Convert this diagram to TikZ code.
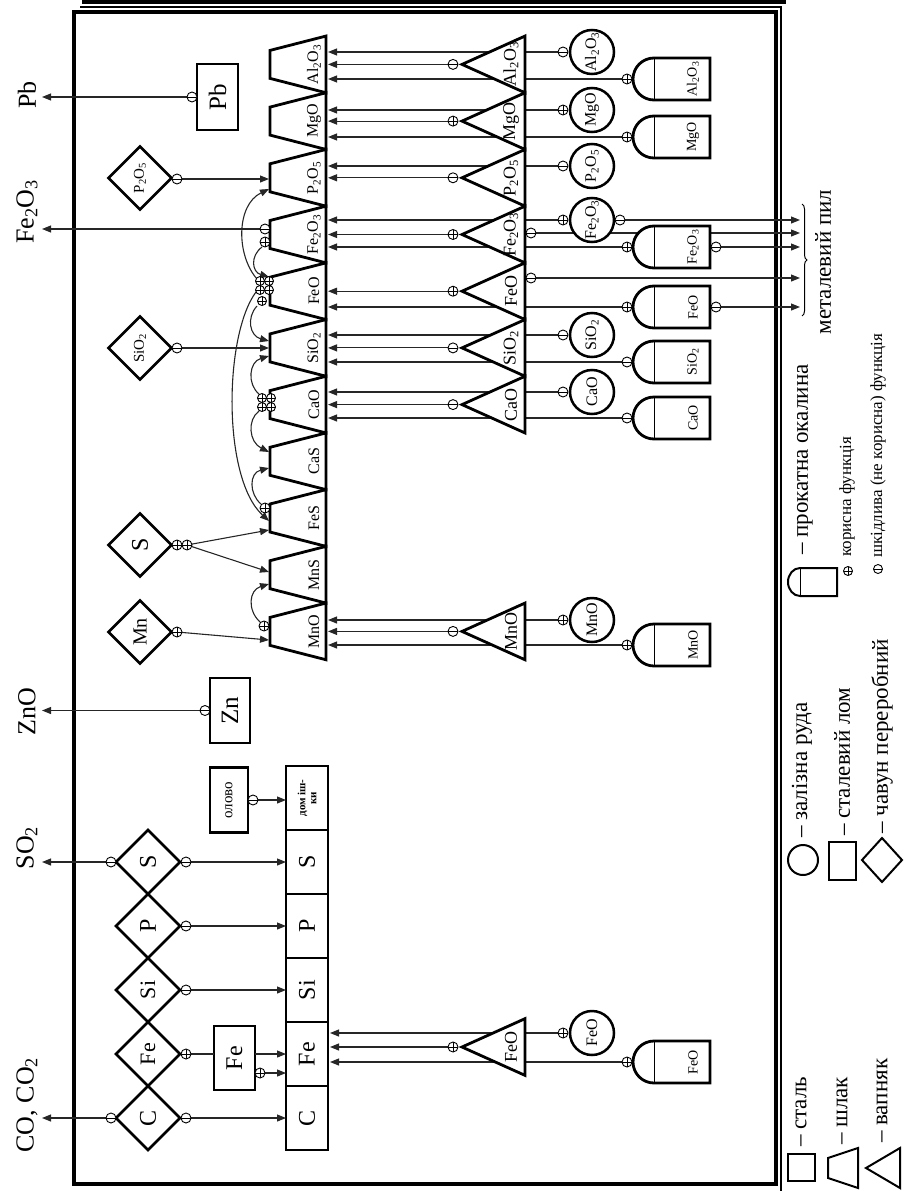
\documentclass[tikz,border=0pt]{standalone}
\usepackage{fontspec}
\setmainfont{Liberation Serif}
\usetikzlibrary{arrows.meta,decorations.pathreplacing}
\newcommand{\sbs}[1]{\textsubscript{#1}}
\newcommand{\fsz}[1]{\fontsize{#1}{#1}\selectfont}
\tikzset{
  conn/.style={line width=1.1pt, black!85},
  arr/.style={conn, -{Triangle[length=9pt,width=7pt]}},
  shp/.style={line width=2.8pt, fill=white},
  lshp/.style={line width=2pt, fill=white},
  lbl/.style={rotate=90, inner sep=0pt},
  sbox/.style={draw, line width=2.8pt, fill=white, rotate=90, inner sep=0pt},
  mk/.style={circle, draw, fill=white, inner sep=0pt, minimum size=10pt, line width=0.9pt},
  plus/.style={mk, path picture={\draw[line width=0.8pt] (path picture bounding box.north) -- (path picture bounding box.south) (path picture bounding box.west) -- (path picture bounding box.east);}},
  minus/.style={mk, path picture={\draw[line width=0.8pt] (path picture bounding box.west) -- (path picture bounding box.east);}},
}
\newcommand{\slagT}[3]{%
  \draw[shp] (270,{#2-14}) -- (326,{#2-28.35}) -- (326,{#2+28.35}) -- (270,{#2+14}) -- cycle;
  \node[lbl,font=\fsz{16}] (#1) at (314,#2) {#3};}
\newcommand{\limeT}[3]{%
  \draw[shp] (462,#2) -- (525,{#2-28.35}) -- (525,{#2+28.35}) -- cycle;
  \node[lbl,font=\fsz{18}] (#1) at (511,#2) {#3};}
\newcommand{\oreC}[3]{%
  \node[circle, draw, line width=2.5pt, fill=white, minimum size=44pt, inner sep=0pt, rotate=90, font=\fsz{16}] (#1) at (592,#2) {#3};}
\newcommand{\scaleB}[3]{%
  \draw[shp] (654,{#2-21}) -- (710,{#2-21}) -- (710,{#2+21}) -- (654,{#2+21}) .. controls (642.4,{#2+21}) and (633,{#2+11.6}) .. (633,#2) .. controls (633,{#2-11.6}) and (642.4,{#2-21}) .. (654,{#2-21}) -- cycle;
  \draw[line width=0.6pt] (654,{#2-20}) -- (654,{#2+20});
  \node[lbl,font=\fsz{14}] (#1) at (693,#2) {#3};}
\newcommand{\castD}[5]{%
  \draw[shp] ({#2-#4},#3) -- (#2,{#3-#4}) -- ({#2+#4},#3) -- (#2,{#3+#4}) -- cycle;
  \node[lbl] (#1) at (#2,#3) {#5};}
\newcommand{\feed}[4]{\coordinate (#1s) at (#2,#3); \coordinate (#1e) at (#4,#3); \draw[arr] (#1s) -- (#1e);}

\begin{document}
\begin{tikzpicture}[x=1pt,y=-1pt]
\useasboundingbox (0,0) rectangle (904,1191);
% frame
\draw[line width=3.5pt] (74,12) rectangle (776,1184);
\draw[line width=4pt] (82,2) -- (786,2);
\draw[line width=1.3pt] (80,7) -- (781,7) -- (781,1191);

% ---------- feeds into slag (behind shapes)
\feed{fAlc}{563}{52}{328} \feed{fAlt}{453}{64.4}{328} \feed{fAlb}{627}{79}{328}
\feed{fMgc}{563}{110}{328} \feed{fMgt}{453}{121.1}{328} \feed{fMgb}{627}{137}{328}
\feed{fPc}{563}{166}{328} \feed{fPt}{453}{177.8}{328}
\feed{fFc}{563}{220}{328} \feed{fFt}{453}{234.5}{328} \feed{fFb}{627}{247}{328}
\feed{fOt}{453}{291.2}{328} \feed{fOb}{627}{307}{328}
\feed{fSc}{563}{335}{328} \feed{fSt}{453}{347.9}{328} \feed{fSb}{627}{362}{328}
\feed{fCc}{563}{392}{328} \feed{fCt}{453}{404.6}{328} \feed{fCb}{627}{418}{328}
\feed{fMc}{563}{620}{328} \feed{fMt}{453}{631.4}{328} \feed{fMb}{627}{645}{328}
\feed{gc}{563}{1033}{330} \feed{gt}{453}{1047}{330} \feed{gb}{627}{1062}{330}
% metal dust
\feed{dA}{620}{220}{800} \feed{dB}{531}{233}{800} \feed{dC}{716}{247}{800}
\feed{dD}{531}{278}{800} \feed{dE}{716}{307}{800}

% ---------- slag trapezoids
\slagT{sAl}{64.4}{Al\sbs{2}O\sbs{3}}
\slagT{sMg}{121.1}{MgO}
\slagT{sP}{177.8}{P\sbs{2}O\sbs{5}}
\slagT{sF3}{234.5}{Fe\sbs{2}O\sbs{3}}
\slagT{sFO}{291.2}{FeO}
\slagT{sSi}{347.9}{SiO\sbs{2}}
\slagT{sCa}{404.6}{CaO}
\slagT{sCS}{461.3}{CaS}
\slagT{sFS}{518.0}{FeS}
\slagT{sMS}{574.7}{MnS}
\slagT{sMn}{631.4}{MnO}

% ---------- limestone triangles
\limeT{lAl}{64.4}{Al\sbs{2}O\sbs{3}}
\limeT{lMg}{121.1}{MgO}
\limeT{lP}{177.8}{P\sbs{2}O\sbs{5}}
\limeT{lF3}{234.5}{Fe\sbs{2}O\sbs{3}}
\limeT{lFO}{291.2}{FeO}
\limeT{lSi}{347.9}{SiO\sbs{2}}
\limeT{lCa}{404.6}{CaO}
\limeT{lMn}{631.4}{MnO}
\limeT{lFe}{1047}{FeO}

% ---------- ore circles
\oreC{oAl}{52}{Al\sbs{2}O\sbs{3}}
\oreC{oMg}{110}{MgO}
\oreC{oP}{166}{P\sbs{2}O\sbs{5}}
\oreC{oF3}{220}{Fe\sbs{2}O\sbs{3}}
\oreC{oSi}{335}{SiO\sbs{2}}
\oreC{oCa}{392}{CaO}
\oreC{oMn}{620}{MnO}
\oreC{oFe}{1033}{FeO}

% ---------- scale bullets
\scaleB{bAl}{79}{Al\sbs{2}O\sbs{3}}
\scaleB{bMg}{137}{MgO}
\scaleB{bF3}{247}{Fe\sbs{2}O\sbs{3}}
\scaleB{bFO}{307}{FeO}
\scaleB{bSi}{362}{SiO\sbs{2}}
\scaleB{bCa}{418}{CaO}
\scaleB{bMn}{645}{MnO}
\scaleB{bFe}{1062}{FeO}

% ---------- markers on right feeds
\node[minus] (mAlc) at (fAlcs) {}; \node[minus] (mAlt) at (fAlts) {}; \node[plus] (mAlb) at (fAlbs) {};
\node[plus] (mMgc) at (fMgcs) {}; \node[plus] (mMgt) at (fMgts) {}; \node[plus] (mMgb) at (fMgbs) {};
\node[minus] (mPc) at (fPcs) {}; \node[minus] (mPt) at (fPts) {};
\node[plus] (mFc) at (fFcs) {}; \node[plus] (mFt) at (fFts) {}; \node[plus] (mFb) at (fFbs) {};
\node[plus] (mOt) at (fOts) {}; \node[plus] (mOb) at (fObs) {};
\node[minus] (mSc) at (fScs) {}; \node[minus] (mSt) at (fSts) {}; \node[minus] (mSb) at (fSbs) {};
\node[minus] (mCc) at (fCcs) {}; \node[minus] (mCt) at (fCts) {}; \node[minus] (mCb) at (fCbs) {};
\node[plus] (mMc) at (fMcs) {}; \node[minus] (mMt) at (fMts) {}; \node[plus] (mMb) at (fMbs) {};
\node[plus] (mgc) at (gcs) {}; \node[plus] (mgt) at (gts) {}; \node[plus] (mgb) at (gbs) {};
\node[minus] (mdA) at (dAs) {}; \node[minus] (mdB) at (dBs) {}; \node[minus] (mdC) at (dCs) {};
\node[minus] (mdD) at (dDs) {}; \node[minus] (mdE) at (dEs) {};

% ---------- steel boxes
\node[sbox, minimum width=64pt, minimum height=42pt, font=\fsz{11}\bfseries, align=center] (stD) at (307,798) {дом іш-\\ки};
\node[sbox, minimum width=64pt, minimum height=42pt, font=\fsz{24}] (stS) at (307,862) {S};
\node[sbox, minimum width=64pt, minimum height=42pt, font=\fsz{24}] (stP) at (307,926) {P};
\node[sbox, minimum width=64pt, minimum height=42pt, font=\fsz{24}] (stSi) at (307,990) {Si};
\node[sbox, minimum width=64pt, minimum height=42pt, font=\fsz{24}] (stFe) at (307,1054) {Fe};
\node[sbox, minimum width=64pt, minimum height=42pt, font=\fsz{24}] (stC) at (307,1118) {C};
% scrap / other boxes
\node[sbox, minimum width=64pt, minimum height=41pt, font=\fsz{24}] (scFe) at (234.5,1058) {Fe};
\node[sbox, minimum width=65pt, minimum height=38pt, font=\fsz{15}] (olovo) at (229,800) {олово};
\node[sbox, minimum width=65pt, minimum height=40pt, font=\fsz{25}] (bZn) at (230,710.5) {Zn};
\node[sbox, minimum width=66pt, minimum height=41pt, font=\fsz{25}] (bPb) at (217.5,97) {Pb};

% ---------- cast-iron diamonds
\castD{dC}{148}{1118}{32}{\fsz{24}C}
\castD{dFe}{148}{1054}{32}{\fsz{22}Fe}
\castD{dSi}{148}{990}{32}{\fsz{22}Si}
\castD{dP}{148}{926}{32}{\fsz{24}P}
\castD{dS}{148}{862}{32}{\fsz{24}S}
\castD{uP}{140}{178}{31.5}{\fsz{15}P\sbs{2}O\sbs{5}}
\castD{uSi}{140}{348}{31.5}{\fsz{15}SiO\sbs{2}}
\castD{uS}{140}{545}{31.5}{\fsz{24}S}
\castD{uMn}{140}{632}{31.5}{\fsz{20}Mn}

% ---------- left connectors
\feed{kC}{186}{1118}{286} \feed{kSi}{186}{990}{286} \feed{kP}{186}{926}{286} \feed{kS}{186}{862}{286}
\coordinate (kFes) at (186,1054); \coordinate (kFem) at (214,1054);
\draw[conn] (kFes) -- (kFem);
\feed{kFf}{255}{1054}{286}
\feed{kFp}{260}{1073}{286}
\feed{kOl}{253}{800}{286}
% outputs
\feed{oCO}{111}{1118}{42} \feed{oSO}{111}{862}{42} \feed{oZn}{205}{710.5}{42}
\feed{oPb}{192}{97}{42} \feed{oFe}{265}{229}{42}
% upper diamonds into slag
\feed{uPa}{177}{179}{269} \feed{uSia}{177}{348}{269}
\coordinate (uSs) at (187,545); \coordinate (uSe1) at (269,530); \coordinate (uSe2) at (269,572);
\draw[arr] (uSs) -- (uSe1); \draw[arr] (uSs) -- (uSe2);
\coordinate (uMs) at (177,632); \coordinate (uMe) at (269,640);
\draw[arr] (uMs) -- (uMe);
% interaction arcs
\coordinate (a1s) at (262,247); \coordinate (a1e) at (269,277);
\draw[arr] (a1s) .. controls (250,256) and (252,272) .. (a1e);
\coordinate (a2s) at (257,279); \coordinate (a2e) at (269,189);
\draw[arr] (a2s) .. controls (236,255) and (236,205) .. (a2e);
\coordinate (a3s) at (257,306); \coordinate (a3e) at (269,341);
\draw[arr] (a3s) .. controls (246,318) and (250,336) .. (a3e);
\coordinate (a4s) at (256,292); \coordinate (a4e) at (269,521);
\draw[arr] (a4s) .. controls (224,335) and (222,478) .. (a4e);
\coordinate (a5s) at (259,394); \coordinate (a5e) at (269,356);
\draw[arr] (a5s) .. controls (247,384) and (249,362) .. (a5e);
\coordinate (a6s) at (259,411); \coordinate (a6e) at (269,452);
\draw[arr] (a6s) .. controls (247,420) and (249,442) .. (a6e);
\coordinate (a7s) at (261,504); \coordinate (a7e) at (269,468);
\draw[arr] (a7s) .. controls (249,494) and (249,473) .. (a7e);
\coordinate (a8s) at (260,622); \coordinate (a8e) at (269,584);
\draw[arr] (a8s) .. controls (247,610) and (249,590) .. (a8e);

% ---------- left markers
\node[minus] (nC1) at (oCOs) {}; \node[minus] (nC2) at (kCs) {};
\node[plus] (nFe1) at (kFes) {}; \node[plus] (nFe2) at (kFps) {};
\node[minus] (nSi) at (kSis) {}; \node[minus] (nP) at (kPs) {};
\node[minus] (nS1) at (kSs) {}; \node[minus] (nS2) at (oSOs) {};
\node[minus] (nOl) at (kOls) {}; \node[minus] (nZn) at (oZns) {}; \node[minus] (nPb) at (oPbs) {};
\node[minus] (nF3a) at (oFes) {}; \node[plus] (nF3b) at (265,242) {};
\node[minus] (nuP) at (uPas) {}; \node[minus] (nuSi) at (uSias) {};
\node[plus] (nuS1) at (177,545) {}; \node[plus] (nuS2) at (uSs) {};
\node[plus] (nuMn) at (uMs) {};
\node[plus, minimum size=9pt] (cO1) at (260,281) {};
\node[plus, minimum size=9pt] (cO2) at (269,281) {};
\node[plus, minimum size=9pt] (cO3) at (260,290) {};
\node[plus, minimum size=9pt] (cO4) at (269,290) {};
\node[plus, minimum size=9pt] (cO5) at (262,301) {};
\node[plus, minimum size=9pt] (cC1) at (262,398) {};
\node[plus, minimum size=9pt] (cC2) at (271,398) {};
\node[plus, minimum size=9pt] (cC3) at (262,407) {};
\node[plus, minimum size=9pt] (cC4) at (271,407) {};
\node[plus] (nFS) at (265,508) {};
\node[plus] (nMn) at (264,626) {};

% ---------- output labels
\node[lbl,font=\fsz{26}] (tPb) at (27,95) {Pb};
\node[lbl,font=\fsz{26}] (tFe) at (27,212) {Fe\sbs{2}O\sbs{3}};
\node[lbl,font=\fsz{26}] (tZn) at (27,712) {ZnO};
\node[lbl,font=\fsz{26}] (tSO) at (27,848) {SO\sbs{2}};
\node[lbl,font=\fsz{26}] (tCO) at (27,1105) {CO, CO\sbs{2}};

% ---------- metal dust
\coordinate (brA) at (802,204); \coordinate (brB) at (802,316);
\draw[line width=1pt, decorate, decoration={brace, amplitude=5pt}] (brA) -- (brB);
\node[lbl,font=\fsz{23}] (dustT) at (823,262) {металевий пил};

% ---------- legend
\node[draw, line width=2pt, minimum size=27pt, inner sep=0pt] (lgSq) at (801,1167) {};
\node[lbl,anchor=west,font=\fsz{23}] (lgSqT) at (801,1147) {– сталь};
\draw[lshp] (828,1158) -- (858,1148) -- (858,1188) -- (828,1178) -- cycle;
\node[lbl,anchor=west,font=\fsz{23}] (lgTrT) at (842,1145) {– шлак};
\draw[lshp] (866,1168) -- (900,1148) -- (900,1188) -- cycle;
\node[lbl,anchor=west,font=\fsz{23}] (lgTiT) at (882,1143) {– вапняк};
\node[circle,draw,line width=2pt,minimum size=30pt,inner sep=0pt] (lgCi) at (803,860) {};
\node[lbl,anchor=west,font=\fsz{23}] (lgCiT) at (802,838) {– залізна руда};
\node[draw,line width=2pt,minimum width=27pt,minimum height=38pt,inner sep=0pt] (lgRe) at (842.5,861) {};
\node[lbl,anchor=west,font=\fsz{23}] (lgReT) at (842,836) {– сталевий лом};
\draw[lshp] (862,860) -- (882,838) -- (902,860) -- (882,882) -- cycle;
\node[lbl,anchor=west,font=\fsz{23}] (lgDiT) at (882,834) {– чавун переробний};
\draw[lshp] (800,568) -- (837,568) -- (837,596) -- (800,596) .. controls (793.4,596) and (788,589.7) .. (788,582) .. controls (788,574.3) and (793.4,568) .. (800,568) -- cycle;
\draw[line width=0.5pt] (800,569) -- (800,595);
\node[lbl,anchor=west,font=\fsz{23}] (lgBuT) at (805,555) {– прокатна окалина};
\node[plus, minimum size=9pt] (lgP) at (848,571) {};
\node[lbl,anchor=west,font=\fsz{17}] (lgPT) at (847,557) {корисна функція};
\node[minus, minimum size=9pt] (lgM) at (878,569) {};
\node[lbl,anchor=west,font=\fsz{17}] (lgMT) at (878,558) {шкідлива (не корисна) функція};
\end{tikzpicture}
\end{document}
